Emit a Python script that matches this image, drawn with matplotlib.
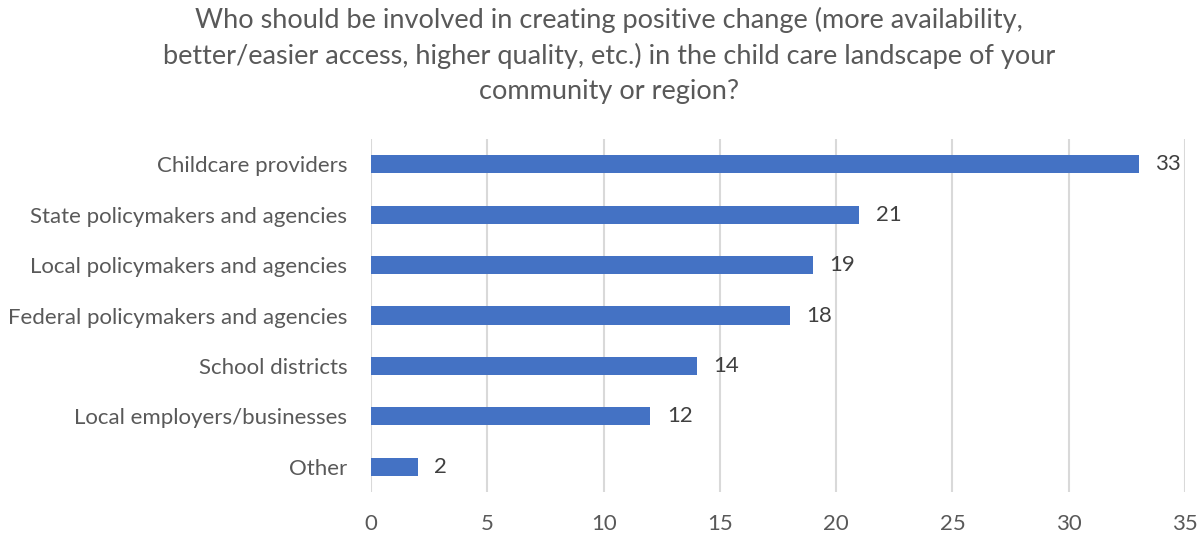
import matplotlib.pyplot as plt

plt.rcParams['font.family'] = ['Lato', 'DejaVu Sans']

categories = ['Childcare providers', 'State policymakers and agencies',
              'Local policymakers and agencies', 'Federal policymakers and agencies',
              'School districts', 'Local employers/businesses', 'Other']
counts = [33, 21, 19, 18, 14, 12, 2]

title = ('Who should be involved in creating positive change (more availability,\n'
         'better/easier access, higher quality, etc.) in the child care landscape of your\n'
         'community or region?')

fig = plt.figure(figsize=(12.03, 5.38), dpi=100)
ax = fig.add_axes([0.3084, 0.0855, 0.6767, 0.656])

ypos = list(range(len(categories)))
ax.barh(ypos, counts, height=0.36, color='#4472C4', zorder=3)
for y, v in zip(ypos, counts):
    ax.annotate(str(v), (v, y), xytext=(12, 0), textcoords='offset points',
                va='center', ha='left', fontsize=16, color='#404040')

ax.set_yticks(ypos)
ax.set_yticklabels(categories)
ax.set_ylim(len(categories) - 0.5, -0.5)
ax.set_xlim(0, 35)
ax.set_xticks(range(0, 36, 5))

ax.grid(axis='x', color='#d9d9d9', linewidth=1.5, zorder=0)
for s in ax.spines.values():
    s.set_visible(False)
ax.tick_params(axis='both', length=0, labelsize=16, labelcolor='#595959')
ax.tick_params(axis='y', pad=17)
ax.tick_params(axis='x', pad=16)

fig.suptitle(title, x=0.506, y=0.987, fontsize=19.5, color='#595959', linespacing=1.48)

fig.savefig('out.png')
